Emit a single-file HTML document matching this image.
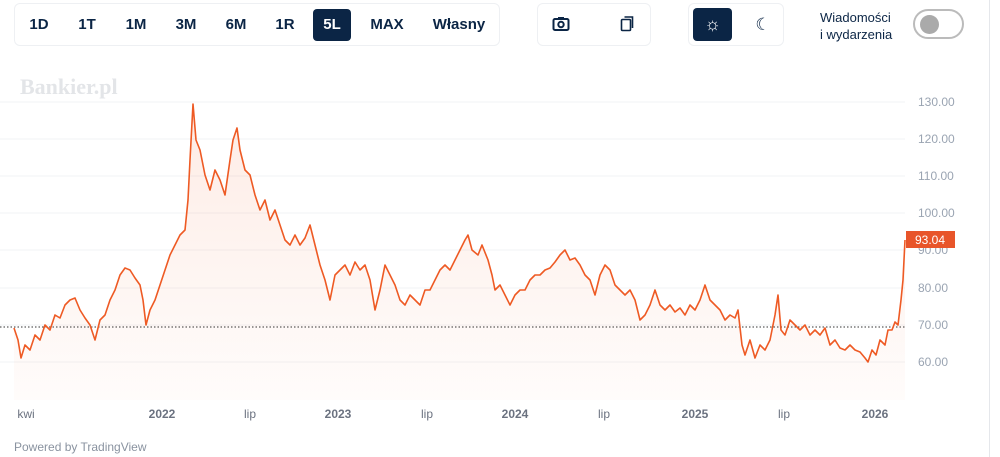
<!DOCTYPE html>
<html><head><meta charset="utf-8"><style>
body{margin:0;width:1000px;height:457px;background:#fff;font-family:"Liberation Sans",sans-serif;overflow:hidden;position:relative}
.box{position:absolute;border:1px solid #eef0f3;border-radius:6px;background:#fff}
.b{position:absolute;top:9px;height:32px;line-height:32px;font-weight:bold;font-size:15px;color:#0b2545;text-align:center}
.sel{background:#0b2545;color:#fff;border-radius:4px}
</style></head><body>
<div class="box" style="left:14px;top:3px;width:484px;height:41px"></div>
<div class="b" style="left:26px;width:26px">1D</div>
<div class="b" style="left:74px;width:26px">1T</div>
<div class="b" style="left:121px;width:30px">1M</div>
<div class="b" style="left:171px;width:30px">3M</div>
<div class="b" style="left:221px;width:30px">6M</div>
<div class="b" style="left:272px;width:26px">1R</div>
<div class="b sel" style="left:313px;width:38px">5L</div>
<div class="b" style="left:367px;width:40px">MAX</div>
<div class="b" style="left:430px;width:58px">Własny</div>
<div class="box" style="left:537px;top:3px;width:112px;height:41px"></div>
<svg style="position:absolute;left:552px;top:16px" width="18" height="16" viewBox="0 0 18 16"><rect x="1.5" y="3" width="15" height="11" rx="1.5" fill="none" stroke="#0b2545" stroke-width="2"/><rect x="6" y="1" width="6" height="3" fill="#0b2545"/><circle cx="9" cy="8.5" r="2.7" fill="none" stroke="#0b2545" stroke-width="2"/></svg>
<svg style="position:absolute;left:620px;top:15px" width="16" height="18" viewBox="0 0 16 18"><rect x="1.5" y="4.5" width="9" height="11" rx="1" fill="none" stroke="#0b2545" stroke-width="1.6"/><path d="M4.5 2h8v11" fill="none" stroke="#0b2545" stroke-width="1.6"/></svg>
<div class="box" style="left:688px;top:3px;width:94px;height:41px"></div>
<div class="sel" style="position:absolute;left:693px;top:8px;width:39px;height:33px"></div>
<div style="position:absolute;left:693px;top:8px;width:39px;height:33px;line-height:33px;text-align:center;color:#fff;font-size:18px">☼</div>
<div style="position:absolute;left:748px;top:8px;width:30px;height:33px;line-height:33px;text-align:center;color:#0b2545;font-size:17px">☾</div>
<div style="position:absolute;left:820px;top:9px;font-size:13px;line-height:17px;color:#0b2545">Wiadomości<br>i wydarzenia</div>
<div style="position:absolute;left:913px;top:9px;width:51px;height:30px;border:2px solid #bbb;border-radius:17px;box-sizing:border-box"></div>
<div style="position:absolute;left:920px;top:15px;width:19px;height:19px;border-radius:50%;background:#aaa"></div>
<div style="position:absolute;left:989px;top:0;width:1px;height:457px;background:#e5e7eb"></div>
<div style="position:absolute;left:20px;top:74px;font-family:'Liberation Serif',serif;font-weight:bold;font-size:22px;color:#e3e5e8">Bankier.pl</div>
<svg style="position:absolute;left:0;top:0" width="1000" height="457">
<defs><linearGradient id="g" x1="0" y1="0" x2="0" y2="1"><stop offset="0" stop-color="#f4602a" stop-opacity="0.12"/><stop offset="1" stop-color="#f4602a" stop-opacity="0.02"/></linearGradient></defs>
<g stroke="#f2f3f5" stroke-width="1">
<line x1="0" x2="905" y1="102" y2="102"/><line x1="0" x2="905" y1="139" y2="139"/><line x1="0" x2="905" y1="176" y2="176"/><line x1="0" x2="905" y1="213" y2="213"/><line x1="0" x2="905" y1="250" y2="250"/><line x1="0" x2="905" y1="288" y2="288"/><line x1="0" x2="905" y1="325" y2="325"/><line x1="0" x2="905" y1="362" y2="362"/>
</g>
<polygon fill="url(#g)" points="14,400 14,328 18,340 21,358 25,345 30,350 35,335 40,340 45,325 50,330 55,315 60,318 65,305 70,300 75,298 80,310 85,318 90,325 95,340 100,320 105,315 110,300 115,290 120,275 125,268 130,270 135,278 140,285 143,300 146,325 150,310 155,300 160,285 165,270 170,255 175,245 180,235 185,230 188,200 190,160 193,104 196,140 200,150 205,175 210,190 215,170 220,180 225,195 230,160 233,140 237,128 240,150 245,170 250,175 255,195 260,210 265,200 270,220 275,210 280,225 285,240 290,245 295,235 300,245 305,238 310,225 315,245 320,265 325,280 330,300 335,275 340,270 345,265 350,275 355,262 360,270 365,265 370,280 375,310 380,290 385,265 390,275 395,285 400,300 405,305 410,295 415,300 420,305 425,290 430,290 435,280 440,270 445,265 450,270 455,260 460,250 465,240 468,235 472,250 478,255 482,245 488,260 492,275 495,290 500,285 505,295 510,305 515,295 520,290 525,290 530,280 535,275 540,275 545,270 550,268 555,262 560,255 565,250 570,260 575,258 580,265 585,275 590,280 595,295 600,275 605,265 610,270 615,285 620,290 625,295 630,290 635,300 640,320 645,315 650,305 655,290 660,305 665,310 670,305 675,312 680,308 685,315 690,305 695,310 700,300 705,285 710,300 715,305 720,310 725,320 730,315 735,318 738,310 742,345 745,355 750,340 755,358 760,345 765,350 770,340 775,315 778,295 781,330 785,335 790,320 795,325 800,330 805,325 810,335 815,330 820,335 825,328 830,345 835,340 840,348 845,350 850,345 855,350 860,352 865,358 868,362 872,350 876,355 880,340 885,345 888,330 892,330 895,322 898,325 901,300 903,280 905,240 905,400"/>
<line x1="0" x2="905" y1="327" y2="327" stroke="#333" stroke-width="1" stroke-dasharray="1.5,2"/>
<polyline fill="none" stroke="#ee5a24" stroke-width="1.6" stroke-linejoin="round" points="14,328 18,340 21,358 25,345 30,350 35,335 40,340 45,325 50,330 55,315 60,318 65,305 70,300 75,298 80,310 85,318 90,325 95,340 100,320 105,315 110,300 115,290 120,275 125,268 130,270 135,278 140,285 143,300 146,325 150,310 155,300 160,285 165,270 170,255 175,245 180,235 185,230 188,200 190,160 193,104 196,140 200,150 205,175 210,190 215,170 220,180 225,195 230,160 233,140 237,128 240,150 245,170 250,175 255,195 260,210 265,200 270,220 275,210 280,225 285,240 290,245 295,235 300,245 305,238 310,225 315,245 320,265 325,280 330,300 335,275 340,270 345,265 350,275 355,262 360,270 365,265 370,280 375,310 380,290 385,265 390,275 395,285 400,300 405,305 410,295 415,300 420,305 425,290 430,290 435,280 440,270 445,265 450,270 455,260 460,250 465,240 468,235 472,250 478,255 482,245 488,260 492,275 495,290 500,285 505,295 510,305 515,295 520,290 525,290 530,280 535,275 540,275 545,270 550,268 555,262 560,255 565,250 570,260 575,258 580,265 585,275 590,280 595,295 600,275 605,265 610,270 615,285 620,290 625,295 630,290 635,300 640,320 645,315 650,305 655,290 660,305 665,310 670,305 675,312 680,308 685,315 690,305 695,310 700,300 705,285 710,300 715,305 720,310 725,320 730,315 735,318 738,310 742,345 745,355 750,340 755,358 760,345 765,350 770,340 775,315 778,295 781,330 785,335 790,320 795,325 800,330 805,325 810,335 815,330 820,335 825,328 830,345 835,340 840,348 845,350 850,345 855,350 860,352 865,358 868,362 872,350 876,355 880,340 885,345 888,330 892,330 895,322 898,325 901,300 903,280 905,240"/>
<g font-size="12" fill="#9aa4b2" font-family="Liberation Sans,sans-serif">
<text x="918" y="106">130.00</text><text x="918" y="143">120.00</text><text x="918" y="180">110.00</text><text x="918" y="217">100.00</text><text x="918" y="254">90.00</text><text x="918" y="292">80.00</text><text x="918" y="329">70.00</text><text x="918" y="366">60.00</text>
</g>
<rect x="906" y="231" width="49" height="17" fill="#e8552a"/>
<text x="930" y="244" font-size="12" fill="#fff" text-anchor="middle">93.04</text>
<g font-size="12" fill="#6b7280" text-anchor="middle">
<text x="26" y="418">kwi</text><text x="162" y="418" font-weight="bold">2022</text><text x="250" y="418">lip</text><text x="338" y="418" font-weight="bold">2023</text><text x="427" y="418">lip</text><text x="515" y="418" font-weight="bold">2024</text><text x="604" y="418">lip</text><text x="695" y="418" font-weight="bold">2025</text><text x="784" y="418">lip</text><text x="875" y="418" font-weight="bold">2026</text>
</g>
<text x="14" y="451" font-size="12" fill="#8a93a0">Powered by TradingView</text>
</svg>
</body></html>
